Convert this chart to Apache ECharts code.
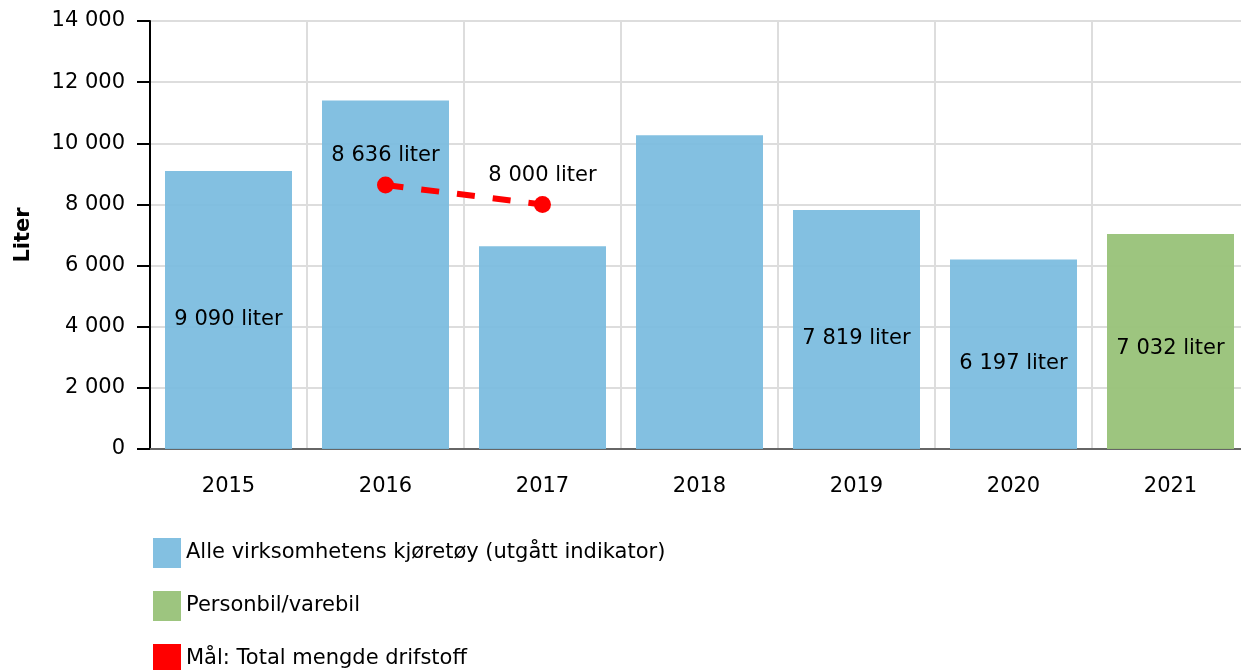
<!DOCTYPE html>
<html>
<head>
<meta charset="utf-8">
<script src="https://cdn.jsdelivr.net/npm/echarts@6/dist/echarts.min.js"></script>
<style>html,body{margin:0;padding:0;background:#fff}#c{width:1241px;height:670px}</style>
</head>
<body>
<div id="c"></div>
<script>
const categories = ['2015','2016','2017','2018','2019','2020','2021'];
const allVehicles = [9090, 11400, 6630, 10260, 7819, 6197, null];
const allVehiclesLabelShown = [true, false, false, false, true, true, false];
const carVan = [null, null, null, null, null, null, 7032];
const goal = [null, 8636, 8000, null, null, null, null];
const seriesNames = ['Alle virksomhetens kjøretøy (utgått indikator)', 'Personbil/varebil', 'Mål: Total mengde drifstoff'];
const yTicks = { min: 0, max: 14000, interval: 2000 };

const FONT = 'DejaVu Sans';
const FS = 21;
const fmt = v => String(Math.round(v)).replace(/\B(?=(\d{3})+(?!\d))/g, ' ');

const chart = echarts.init(document.getElementById('c'));
chart.setOption({
  animation: false,
  textStyle: { fontFamily: FONT },
  grid: { left: 150, right: -8, top: 21, bottom: 221, containLabel: false, outerBoundsMode: 'none' },
  legend: {
    orient: 'vertical', left: 148, top: 533, height: 250,
    itemWidth: 28, itemHeight: 30, itemGap: 23,
    icon: 'rect',
    textStyle: { fontFamily: FONT, fontSize: FS, color: '#000' },
    data: seriesNames
  },
  xAxis: {
    type: 'category', data: categories,
    axisLine: { lineStyle: { color: '#666', width: 2 } },
    axisTick: { alignWithLabel: true, length: 10, lineStyle: { color: '#aaa', width: 2 } },
    axisLabel: { fontFamily: FONT, fontSize: FS, color: '#000', margin: 27 },
    splitLine: { show: true, lineStyle: { color: '#ddd', width: 2 } }
  },
  yAxis: {
    type: 'value', min: yTicks.min, max: yTicks.max, interval: yTicks.interval,
    name: 'Liter', nameLocation: 'middle', nameGap: 116, nameRotate: 90,
    nameTextStyle: { fontFamily: FONT, fontSize: FS, fontWeight: 'bold', color: '#000' },
    axisLine: { show: true, lineStyle: { color: '#000', width: 2 } },
    axisTick: { show: true, length: 13, lineStyle: { color: '#000', width: 2 } },
    axisLabel: { fontFamily: FONT, fontSize: FS, color: '#000', margin: 25, formatter: fmt },
    splitLine: { show: true, lineStyle: { color: '#ddd', width: 2 } }
  },
  series: [
    {
      name: seriesNames[0], type: 'bar', stack: 'a', barWidth: 127, z: 1,
      itemStyle: { color: 'rgba(120,187,222,0.92)' },
      data: allVehicles.map((v, i) => ({
        value: v,
        label: { show: allVehiclesLabelShown[i] }
      })),
      label: {
        position: 'inside', offset: [0, 9], fontFamily: FONT, fontSize: FS, color: '#000',
        formatter: p => fmt(p.value) + ' liter'
      }
    },
    {
      name: seriesNames[1], type: 'bar', stack: 'a', barWidth: 127, z: 1,
      itemStyle: { color: 'rgba(152,194,120,0.95)' },
      data: carVan,
      label: {
        show: true, position: 'inside', offset: [0, 7], fontFamily: FONT, fontSize: FS, color: '#000',
        formatter: p => fmt(p.value) + ' liter'
      }
    },
    {
      name: seriesNames[2], type: 'line', z: 5,
      data: goal, connectNulls: false,
      symbol: 'circle', symbolSize: 17,
      itemStyle: { color: '#ff0000' },
      lineStyle: { color: '#ff0000', width: 6, type: [18, 18] },
      label: {
        show: true, position: 'top', distance: 10, fontFamily: FONT, fontSize: FS, color: '#000',
        formatter: p => fmt(p.value) + ' liter'
      }
    }
  ]
});
</script>
</body>
</html>
